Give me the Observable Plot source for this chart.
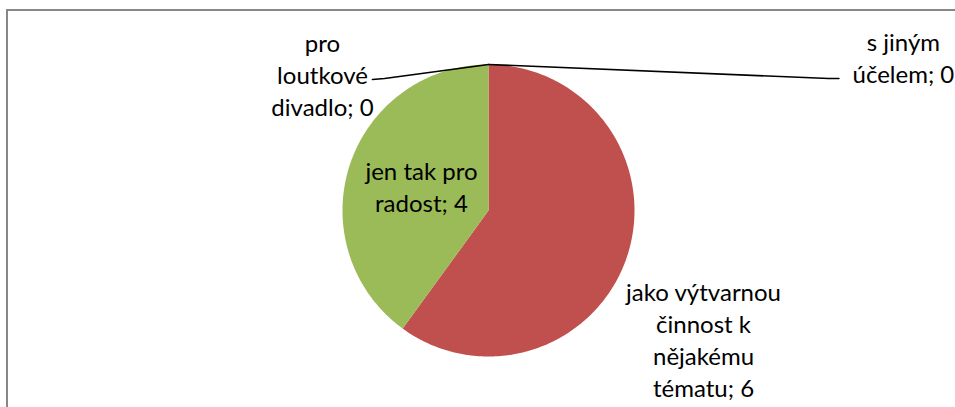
<!DOCTYPE html>
<html><head><meta charset="utf-8">
<script src="https://cdn.jsdelivr.net/npm/d3@7"></script>
<script src="https://cdn.jsdelivr.net/npm/@observablehq/plot@0.6"></script>
<style>
html,body{margin:0;padding:0;background:#fff;overflow:hidden;}
#wrap{position:relative;width:955px;height:407px;overflow:hidden;}
#frame{position:absolute;left:6px;top:9px;width:1100px;height:600px;border:2px solid #878787;box-sizing:border-box;}
#chart{position:absolute;left:0;top:0;}
</style></head><body>
<div id="wrap"><div id="frame"></div><div id="chart"></div></div>
<script>
// ---- data (Excel order, clockwise from 12 o'clock) ----
const categories = ["s jiným účelem", "jako výtvarnou činnost k nějakému tématu", "jen tak pro radost", "pro loutkové divadlo"];
const values = [0, 6, 4, 0];
const colors = ["#4F81BD", "#C0504D", "#9BBB59", "#8064A2"];

// ---- layout (not data) ----
const W = 955, H = 407, cx = 488, cy = 210, r = 146;
const wrapChars = [9, 14, 11, 10];                 // label wrap width (characters)
const labelPos = [[2.842, 1.051], [1.473, -0.877], [-0.459, 0.171], [-1.137, 0.938]]; // radius units
const leaderPts = [[[2.40, 0.904], [2.33, 0.904]], null, null, [[-0.795, 0.897], [-0.712, 0.904]]];

function wrap(text, n) {
  const words = text.split(" "), lines = [];
  let cur = "";
  for (const w of words) {
    if (!cur) cur = w;
    else if ((cur + " " + w).length <= n) cur += " " + w;
    else { lines.push(cur); cur = w; }
  }
  if (cur) lines.push(cur);
  return lines.join("\n");
}

const data = categories.map((c, i) => ({category: c, value: values[i], color: colors[i], i}));
const arcs = d3.pie().sort(null).value(d => d.value).startAngle(0).endAngle(2 * Math.PI)(data);

const sliceMarks = arcs.filter(a => a.endAngle > a.startAngle).map(a => {
  const n = Math.max(2, Math.ceil((a.endAngle - a.startAngle) / (Math.PI / 360)));
  const pts = [{x: 0, y: 0}];
  for (let k = 0; k <= n; k++) {
    const t = a.startAngle + (a.endAngle - a.startAngle) * k / n;
    pts.push({x: Math.sin(t), y: Math.cos(t)});
  }
  pts.push({x: 0, y: 0});
  return Plot.line(pts, {x: "x", y: "y", fill: a.data.color, stroke: "none"});
});

const leaderMarks = arcs.filter(a => leaderPts[a.data.i]).map(a => {
  const pts = leaderPts[a.data.i].map(([x, y]) => ({x, y}));
  pts.push({x: Math.sin(a.startAngle), y: Math.cos(a.startAngle)});
  return Plot.line(pts, {x: "x", y: "y", stroke: "#000", strokeWidth: 1.6});
});

const labels = arcs.map(a => ({
  x: labelPos[a.data.i][0], y: labelPos[a.data.i][1],
  text: wrap(`${a.data.category}; ${a.data.value}`, wrapChars[a.data.i])
}));

const chart = Plot.plot({
  width: W, height: H, margin: 0,
  style: {background: "transparent", overflow: "visible"},
  x: {domain: [-cx / r, (W - cx) / r], range: [0, W], axis: null},
  y: {domain: [-(H - cy) / r, cy / r], range: [H, 0], axis: null},
  marks: [
    ...sliceMarks,
    ...leaderMarks,
    Plot.text(labels, {x: "x", y: "y", text: "text", fontSize: 24, lineHeight: 1.33,
      fill: "#000", fontFamily: "Lato, 'Open Sans', sans-serif"})
  ]
});
document.getElementById("chart").appendChild(chart);
</script>
</body></html>
